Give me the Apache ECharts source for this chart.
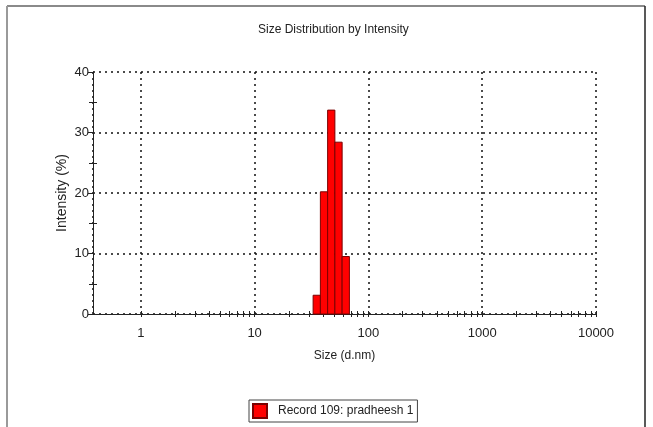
<!DOCTYPE html>
<html>
<head>
<meta charset="utf-8">
<script src="https://cdn.jsdelivr.net/npm/echarts@6/dist/echarts.min.js"></script>
<style>html,body{margin:0;padding:0;background:#fff}#c{width:653px;height:427px}</style>
</head>
<body>
<div id="c"></div>
<script>
// Size bin edges (d.nm) and intensity (%) per bin
var binEdges = [32.67, 37.84, 43.82, 50.75, 58.77, 68.06];
var intensity = [3.1, 20.2, 33.7, 28.4, 9.5];
var xMajorTicks = [1, 10, 100, 1000, 10000];
var xMinorTicks = [2,3,4,5,6,7,8,9,20,30,40,50,60,70,80,90,200,300,400,500,600,700,800,900,2000,3000,4000,5000,6000,7000,8000,9000];
var yMinorTicks = [5, 15, 25, 35];
var seriesName = 'Record 109: pradheesh 1';

var FONT = "'Liberation Sans',Arial,sans-serif";
var barData = intensity.map(function (v, i) { return [binEdges[i], binEdges[i + 1], v]; });
var allXTicks = xMajorTicks.concat(xMinorTicks);

var chart = echarts.init(document.getElementById('c'), null, {renderer: 'canvas'});
var dotted = {color: '#111', width: 1.5, type: [2, 4]};
var baseX = {type: 'log', logBase: 10, min: 0.38, max: 10000, gridIndex: 0};
chart.setOption({
  animation: false,
  backgroundColor: '#fff',
  title: {text: 'Size Distribution by Intensity', left: 253, top: 19,
    textStyle: {fontFamily: FONT, fontSize: 12, fontWeight: 'normal', color: '#222'}},
  grid: {left: 93, right: 57, top: 72, bottom: 113},
  legend: {
    data: [seriesName], left: 249, top: 400, orient: 'horizontal',
    borderColor: '#444', borderWidth: 1, padding: [3, 4, 3, 3],
    itemWidth: 14, itemHeight: 14, itemGap: 5, icon: 'rect',
    textStyle: {fontFamily: FONT, fontSize: 12, color: '#222', padding: [0, 0, 0, 6]}
  },
  xAxis: [
    Object.assign({}, baseX, {
      name: 'Size (d.nm)', nameLocation: 'middle', nameGap: 36,
      nameTextStyle: {fontFamily: FONT, fontSize: 12, color: '#222'},
      axisLine: {show: true, lineStyle: {color: '#222', width: 1}},
      axisTick: {show: false},
      axisLabel: {showMinLabel: false, margin: 13, fontFamily: FONT, fontSize: 13, color: '#222',
        formatter: function (v) { return xMajorTicks.indexOf(Math.round(v)) >= 0 ? String(Math.round(v)) : ''; }},
      splitLine: {show: true, lineStyle: dotted},
      minorTick: {show: false}, minorSplitLine: {show: false}
    }),
    Object.assign({}, baseX, {
      position: 'bottom', axisLine: {show: false}, axisLabel: {show: false}, splitLine: {show: false},
      axisTick: {show: true, customValues: allXTicks, length: 3, inside: false, lineStyle: {color: '#222'}}
    }),
    Object.assign({}, baseX, {
      position: 'bottom', axisLine: {show: false}, axisLabel: {show: false}, splitLine: {show: false},
      axisTick: {show: true, customValues: allXTicks, length: 3, inside: true, lineStyle: {color: '#222'}}
    })
  ],
  yAxis: [
    {
      type: 'value', min: 0, max: 40, interval: 10,
      name: 'Intensity (%)', nameLocation: 'middle', nameGap: 24, nameRotate: 90,
      nameMoveOverlap: false,
      nameTextStyle: {fontFamily: FONT, fontSize: 14, color: '#222'},
      axisLine: {show: true, lineStyle: {color: '#222', width: 1}},
      axisTick: {show: true, length: 5, lineStyle: {color: '#222'}},
      minorTick: {show: true, splitNumber: 2, length: 4, lineStyle: {color: '#222'}},
      axisLabel: {margin: 4, fontFamily: FONT, fontSize: 13, color: '#222'},
      splitLine: {show: true, lineStyle: dotted}
    },
    {
      type: 'value', min: 0, max: 40, interval: 10, position: 'left',
      axisLine: {show: false}, axisLabel: {show: false}, splitLine: {show: false},
      axisTick: {show: true, customValues: yMinorTicks, inside: true, length: 4, lineStyle: {color: '#222'}}
    }
  ],
  series: [{
    name: seriesName,
    type: 'custom',
    xAxisIndex: 0, yAxisIndex: 0,
    itemStyle: {color: '#ff0000', borderColor: '#7a0000', borderWidth: 1},
    encode: {x: [0, 1], y: 2},
    data: barData,
    renderItem: function (params, api) {
      var p0 = api.coord([api.value(0), api.value(2)]);
      var p1 = api.coord([api.value(1), 0]);
      return {
        type: 'rect',
        shape: {x: p0[0], y: p0[1], width: p1[0] - p0[0], height: p1[1] - p0[1]},
        style: {fill: '#ff0000', stroke: '#7a0000', lineWidth: 1}
      };
    }
  }],
  graphic: [
    {type: 'line', shape: {x1: 7, y1: 6, x2: 645, y2: 6}, style: {stroke: '#8a8a8a', lineWidth: 2}},
    {type: 'line', shape: {x1: 7, y1: 6, x2: 7, y2: 427}, style: {stroke: '#9a9a9a', lineWidth: 2}},
    {type: 'line', shape: {x1: 645, y1: 6, x2: 645, y2: 427}, style: {stroke: '#222', lineWidth: 1.5}}
  ]
});
</script>
</body>
</html>
